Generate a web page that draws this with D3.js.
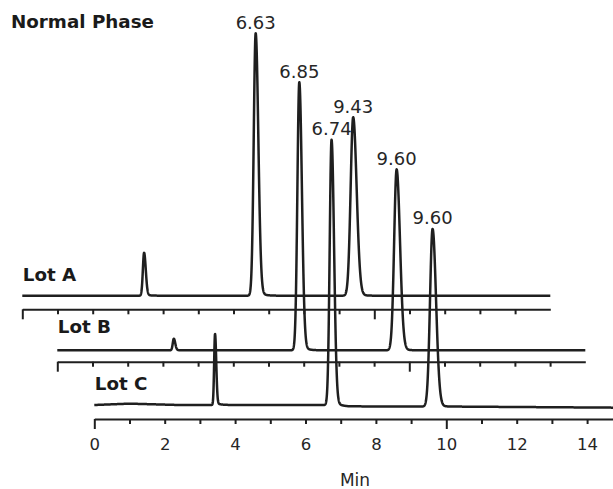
<!DOCTYPE html>
<html><head><meta charset="utf-8">
<script src="https://cdn.jsdelivr.net/npm/d3@7"></script>
<style>body{margin:0;background:#fff} svg{display:block}</style>
</head><body><svg id="c" width="613" height="489"></svg>
<script>
// ---- data ----
const lots = ["Lot A", "Lot B", "Lot C"];
const axisTicks = [0,1,2,3,4,5,6,7,8,9,10,11,12,13,14];
const tickLabels = ["0","2","4","6","8","10","12","14"];
const title = "Normal Phase";
const axisTitle = "Min";

// peaks per lot: retention time (min), height (% of scale), width (sigma, min)
const peakTimesA   = [3.46, 6.63, 9.40];
const peakHeightsA = [15.9, 97.2, 66.1];
const peakWidthsA  = [0.035, 0.055, 0.072];
const peakTimesB   = [3.31, 6.875, 9.64];
const peakHeightsB = [4.3, 99.3, 67.0];
const peakWidthsB  = [0.030, 0.054, 0.070];
const peakTimesC   = [3.43, 6.74, 9.61];
const peakHeightsC = [26.3, 98.4, 65.8];
const peakWidthsC  = [0.025, 0.052, 0.072];

// baseline drift per lot (time, value)
const baseTimesA = [0, 15];  const baseValsA = [0, 0];
const baseTimesB = [0, 15];  const baseValsB = [0, 0];
const baseTimesC = [0, 1.0, 2.4, 6.5, 7.2, 10.4, 15];
const baseValsC  = [0, 0.5, 0, 0, -0.5, -0.6, -1.0];

// retention-time labels
const peakLabelText  = ["6.63", "6.85", "6.74", "9.43", "9.60", "9.60"];
const peakLabelLot   = [0, 1, 2, 0, 1, 2];
const peakLabelPeak  = [1, 1, 1, 2, 2, 2];

// ---- layout ----
const W = 613, H = 489;
const pxPerMin = 35.2;
const layout = [
  {x0: 22.3, base: 295.7, axisY: 309.3, labelY: 280.7},
  {x0: 57.3, base: 350.3, axisY: 361.7, labelY: 333.3},
  {x0: 94.3, base: 405.0, axisY: 419.0, labelY: 389.5}
];
const ink = "#1f1f1f";
const font = "'DejaVu Sans', Verdana, sans-serif";

const peaks = [
  {t: peakTimesA, h: peakHeightsA, w: peakWidthsA, bt: baseTimesA, bv: baseValsA},
  {t: peakTimesB, h: peakHeightsB, w: peakWidthsB, bt: baseTimesB, bv: baseValsB},
  {t: peakTimesC, h: peakHeightsC, w: peakWidthsC, bt: baseTimesC, bv: baseValsC}
];

function peakShape(t, t0, h, s) {
  const d = t - t0;
  if (d < 0) return h * Math.exp(-0.5 * (d / s) ** 2);
  const sr = s * 1.35;
  const g = Math.exp(-0.5 * (d / sr) ** 2);
  const tail = 0.035 * Math.exp(-d / 0.12) * (1 - g);
  return h * (g + tail);
}

const svg = d3.select("#c");
svg.append("rect").attr("width", W).attr("height", H).attr("fill", "#fff");

const times = d3.range(0, 15.0001, 0.004);

lots.forEach((name, i) => {
  const L = layout[i], P = peaks[i];
  const x = d3.scaleLinear().domain([0, 15]).range([L.x0, L.x0 + 15 * pxPerMin]);
  const y = d3.scaleLinear().domain([0, 100]).range([L.base, L.base - 270]);
  const baseline = d3.scaleLinear().domain(P.bt).range(P.bv).clamp(true);
  const trace = times.map(t => {
    let v = baseline(t);
    P.t.forEach((t0, k) => { v += peakShape(t, t0, P.h[k], P.w[k]); });
    return [t, v];
  });
  const line = d3.line().x(d => x(d[0])).y(d => y(d[1]));
  svg.append("path").datum(trace).attr("d", line)
    .attr("fill", "none").attr("stroke", ink).attr("stroke-width", 2.5)
    .attr("stroke-linejoin", "round");

  // axis
  const axis = d3.axisBottom(x).tickValues(axisTicks).tickSize(5).tickSizeOuter(0)
    .tickFormat(() => "");
  const g = svg.append("g").attr("transform", `translate(0,${L.axisY})`).call(axis);
  g.select(".domain").attr("stroke", ink).attr("stroke-width", 2);
  g.selectAll(".tick line").attr("stroke", ink).attr("stroke-width", 2)
    .attr("y2", d => d % 10 === 0 ? 10 : 5);
  g.selectAll(".tick text").remove();

  if (i === 2) {
    g.selectAll(".tick").filter(d => d % 2 === 0).append("text")
      .attr("y", 31).attr("text-anchor", "middle")
      .attr("fill", "#262626").attr("font-family", font).attr("font-size", 16.5)
      .text(d => tickLabels[d / 2]);
    svg.append("text").attr("x", 355).attr("y", 486).attr("text-anchor", "middle")
      .attr("fill", "#262626").attr("font-family", font).attr("font-size", 17)
      .text(axisTitle);
  }

  // lot label
  svg.append("text").attr("x", L.x0 + 0.5).attr("y", L.labelY)
    .attr("fill", "#1a1a1a").attr("font-family", font).attr("font-weight", "bold")
    .attr("font-size", 18.3).text(name);

  // retention labels for this lot
  peakLabelText.forEach((txt, j) => {
    if (peakLabelLot[j] !== i) return;
    const k = peakLabelPeak[j];
    svg.append("text").attr("x", x(P.t[k])).attr("y", y(P.h[k] + baseline(P.t[k])) - 4.5)
      .attr("text-anchor", "middle").attr("fill", "#262626")
      .attr("font-family", font).attr("font-size", 18).text(txt);
  });
});

svg.append("text").attr("x", 11).attr("y", 27.7)
  .attr("fill", "#1a1a1a").attr("font-family", font).attr("font-weight", "bold")
  .attr("font-size", 18.3).text(title);
</script></body></html>
